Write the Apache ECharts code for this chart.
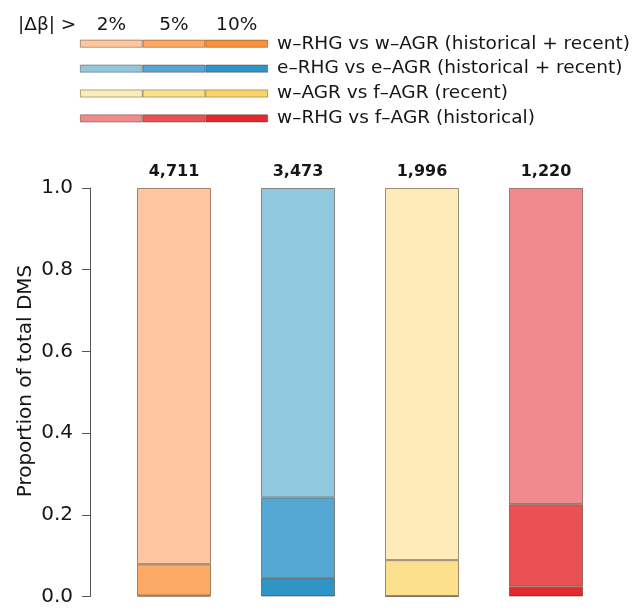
<!DOCTYPE html>
<html>
<head>
<meta charset="utf-8">
<script src="https://cdn.jsdelivr.net/npm/echarts@6/dist/echarts.min.js"></script>
<style>html,body{margin:0;padding:0;background:#fff;}#c{width:635px;height:613px;}</style>
</head>
<body>
<div id="c"></div>
<script>
// ---- data ----
const comparisons = [
  'w–RHG vs w–AGR (historical + recent)',
  'e–RHG vs e–AGR (historical + recent)',
  'w–AGR vs f–AGR (recent)',
  'w–RHG vs f–AGR (historical)'
];
const totalDMS = [4711, 3473, 1996, 1220];
const propAbove2 = [1, 1, 1, 1];
const propAbove5 = [0.079, 0.242, 0.089, 0.226];
const propAbove10 = [0.002, 0.045, 0.001, 0.024];
const thresholds = ['2%', '5%', '10%'];
const yTicks = [0, 0.2, 0.4, 0.6, 0.8, 1.0];

// colours per comparison: [>2%, >5%, >10%]
const palette = [
  ['#FDC69E', '#FCAA66', '#F7923A'],
  ['#8FC8DF', '#55A8D3', '#2E95C7'],
  ['#FDEBB9', '#FDE08E', '#F9D46C'],
  ['#F18A8E', '#EA5154', '#E3292E']
];

// segments (exclusive bands) from cumulative proportions
const seg10 = propAbove10.slice();
const seg5 = propAbove5.map((v, i) => +(v - propAbove10[i]).toFixed(4));
const seg2 = propAbove2.map((v, i) => +(v - propAbove5[i]).toFixed(4));

const FONT = 'DejaVu Sans';
const TXT = '#161616';
const border = 'rgba(60,40,20,0.5)';

function mainSeries(name, data, k) {
  return {
    name, type: 'bar', stack: 'main', xAxisIndex: 0, yAxisIndex: 0,
    barWidth: 74, data,
    itemStyle: { color: p => palette[p.dataIndex][k], borderColor: border, borderWidth: 1 },
    emphasis: { disabled: true }
  };
}
function legendSeries(name, k) {
  return {
    name, type: 'bar', stack: 'leg', xAxisIndex: 1, yAxisIndex: 1,
    barWidth: 8, data: comparisons.map(() => 1),
    itemStyle: { color: p => palette[p.dataIndex][k], borderColor: border, borderWidth: 0.8 },
    emphasis: { disabled: true }
  };
}

const chart = echarts.init(document.getElementById('c'), null, { renderer: 'canvas' });
chart.setOption({
  animation: false,
  backgroundColor: '#fff',
  textStyle: { fontFamily: FONT },
  grid: [
    { left: 112, right: 27, top: 188, bottom: 16.5 },
    { left: 80, right: 367, top: 31.25, height: 99.6 }
  ],
  xAxis: [
    {
      type: 'category', gridIndex: 0, position: 'top', data: comparisons,
      axisLine: { show: false }, axisTick: { show: false },
      axisLabel: {
        formatter: (v, i) => totalDMS[i].toLocaleString('en-US'),
        fontFamily: FONT, fontWeight: 'bold', fontSize: 16, color: TXT,
        margin: 16, verticalAlign: 'middle'
      }
    },
    { type: 'value', gridIndex: 1, min: 0, max: 3, show: false },
    {
      type: 'category', gridIndex: 1, position: 'top', data: thresholds,
      axisLine: { show: false }, axisTick: { show: false },
      axisLabel: { fontFamily: FONT, fontSize: 18.5, color: TXT, margin: 6, verticalAlign: 'middle' }
    }
  ],
  yAxis: [
    {
      type: 'value', gridIndex: 0, min: 0, max: 1, interval: 0.2, offset: 22,
      axisLine: { show: true, lineStyle: { color: '#555', width: 1 } },
      axisTick: { show: true, length: 8, lineStyle: { color: '#555' } },
      splitLine: { show: false },
      axisLabel: {
        formatter: v => (yTicks.includes(+v.toFixed(1)) ? v.toFixed(1) : ''),
        fontFamily: FONT, fontSize: 20, color: TXT, margin: 17
      }
    },
    {
      type: 'category', gridIndex: 1, inverse: true, position: 'right', data: comparisons,
      axisLine: { show: false }, axisTick: { show: false },
      axisLabel: { fontFamily: FONT, fontSize: 18.5, color: TXT, margin: 9, align: 'left' }
    }
  ],
  graphic: [
    {
      type: 'text', x: 26, y: 381, rotation: Math.PI / 2,
      style: { text: 'Proportion of total DMS', font: '20px "DejaVu Sans"', fill: TXT, align: 'center', verticalAlign: 'middle' }
    },
    {
      type: 'text', x: 18, y: 25,
      style: { text: '|Δβ| >', font: '18.5px "DejaVu Sans"', fill: TXT, align: 'left', verticalAlign: 'middle' }
    }
  ],
  series: [
    mainSeries('>10%', seg10, 2),
    mainSeries('5–10%', seg5, 1),
    mainSeries('2–5%', seg2, 0),
    legendSeries('2%', 0),
    legendSeries('5%', 1),
    legendSeries('10%', 2)
  ]
});
</script>
</body>
</html>
